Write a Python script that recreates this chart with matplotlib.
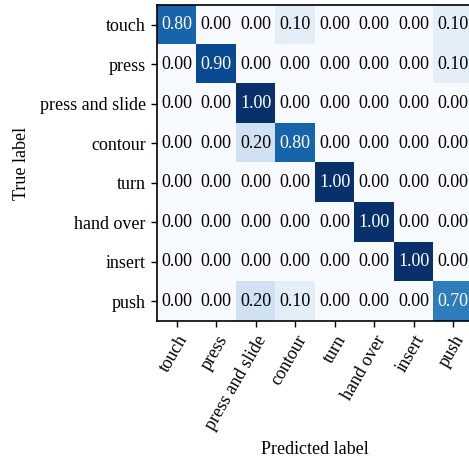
import numpy as np
import matplotlib
matplotlib.use("Agg")
import matplotlib.pyplot as plt

plt.rcParams['font.family'] = ['Liberation Serif', 'DejaVu Serif']

labels = ["touch", "press", "press and slide", "contour", "turn", "hand over", "insert", "push"]
cm = np.array([
    [0.80, 0.00, 0.00, 0.10, 0.00, 0.00, 0.00, 0.10],
    [0.00, 0.90, 0.00, 0.00, 0.00, 0.00, 0.00, 0.10],
    [0.00, 0.00, 1.00, 0.00, 0.00, 0.00, 0.00, 0.00],
    [0.00, 0.00, 0.20, 0.80, 0.00, 0.00, 0.00, 0.00],
    [0.00, 0.00, 0.00, 0.00, 1.00, 0.00, 0.00, 0.00],
    [0.00, 0.00, 0.00, 0.00, 0.00, 1.00, 0.00, 0.00],
    [0.00, 0.00, 0.00, 0.00, 0.00, 0.00, 1.00, 0.00],
    [0.00, 0.00, 0.20, 0.10, 0.00, 0.00, 0.00, 0.70],
])

W, H = 469, 461
fig = plt.figure(figsize=(W / 100, H / 100), dpi=100)
ax = fig.add_axes([157 / W, (H - 321) / H, 316 / W, 316 / H])
ax.imshow(cm, cmap="Blues", vmin=0, vmax=1, interpolation="nearest", aspect="auto")

n = len(labels)
for i in range(n):
    for j in range(n):
        v = cm[i, j]
        ax.text(j, i, f"{v:.2f}", ha="center", va="center", fontsize=13,
                color="white" if v > 0.5 else "black")

ax.set_xticks(range(n))
ax.set_yticks(range(n))
ax.set_xticklabels(labels, rotation=60, ha="right", rotation_mode="anchor", fontsize=13)
ax.set_yticklabels(labels, fontsize=13)
ax.set_xlim(-0.5, n - 0.5)
ax.set_ylim(n - 0.5, -0.5)
ax.tick_params(length=4.5, width=1)
for s in ax.spines.values():
    s.set_linewidth(1.2)
ax.set_xlabel("Predicted label", fontsize=13, labelpad=6)
ax.set_ylabel("True label", fontsize=13, labelpad=7)

fig.savefig("out.png", dpi=100)
